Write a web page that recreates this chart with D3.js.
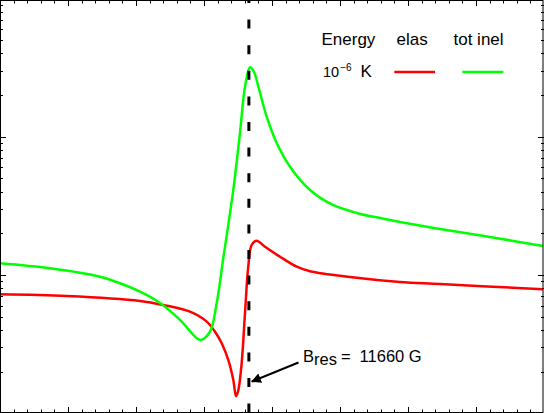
<!DOCTYPE html>
<html>
<head>
<meta charset="utf-8">
<script src="https://cdn.jsdelivr.net/npm/d3@7"></script>
<style>
  body { margin: 0; background: #fff; }
  svg { display: block; font-family: "Liberation Sans", Arial, sans-serif; }
</style>
</head>
<body>
<svg></svg>
<script>
const width = 544;
const height = 413;

// DATA (field in G, rate coefficients)
const elasField = [11623.40, 11633.21, 11643.99, 11647.41, 11651.34, 11653.80, 11655.02, 11656.00,
                   11656.97, 11657.71, 11658.11, 11658.45, 11658.94, 11659.43, 11659.91, 11660.41,
                   11661.15, 11662.37, 11664.58, 11667.03, 11668.99, 11674.87, 11682.22, 11688.11, 11703.25];
const elasRate = [7.25e-13, 7.05e-13, 6.49e-13, 6.07e-13, 5.43e-13, 4.60e-13, 3.89e-13, 3.21e-13,
                  2.43e-13, 1.74e-13, 1.33e-13, 1.47e-13, 2.31e-13, 5.31e-13, 1.148e-12, 1.648e-12,
                  1.77e-12, 1.60e-12, 1.356e-12, 1.148e-12, 1.065e-12, 9.67e-13, 8.90e-13, 8.61e-13, 7.88e-13];

const inelField = [11623.40, 11630.75, 11638.11, 11641.05, 11643.99, 11646.93, 11649.87,
                   11652.33, 11652.96, 11654.28, 11655.27, 11656.24, 11657.08, 11657.71, 11658.69,
                   11659.43, 11660.16, 11660.75, 11661.39, 11662.62, 11664.09, 11666.05, 11668.99,
                   11672.37, 11675.86, 11679.28, 11682.22, 11688.11, 11695.46, 11703.25];
const inelRate = [1.215e-12, 1.118e-12, 9.72e-13, 8.71e-13, 7.57e-13, 6.27e-13, 4.73e-13,
                  3.49e-13, 3.39e-13, 3.89e-13, 6.27e-13, 1.327e-12, 2.50e-12, 4.12e-12, 1.063e-11,
                  2.30e-11, 3.18e-11, 2.94e-11, 2.30e-11, 1.395e-11, 9.00e-12, 6.07e-12, 4.12e-12,
                  3.21e-12, 2.81e-12, 2.58e-12, 2.42e-12, 2.15e-12, 1.883e-12, 1.62e-12];

const bRes = 11660;
const xDomain = [11623.4, 11703.4];
const yDomain = [1e-13, 1e-10];
const seriesNames = ['elas', 'tot inel'];
const seriesColors = ['#ff0000', '#00ff00'];

// SCALES
const xScale = d3.scaleLinear().domain(xDomain).range([0, width]);
const yScale = d3.scaleLog().domain(yDomain).range([413.3, -1.6]);

const svg = d3.select('svg')
    .attr('width', width)
    .attr('height', height);

const defs = svg.append('defs');
defs.append('clipPath').attr('id', 'clip')
  .append('rect').attr('x', 0).attr('y', 0).attr('width', width).attr('height', height);

defs.append('marker')
    .attr('id', 'arrow')
    .attr('viewBox', '0 0 10 10')
    .attr('refX', 9).attr('refY', 5)
    .attr('markerWidth', 5).attr('markerHeight', 5)
    .attr('orient', 'auto')
  .append('path')
    .attr('d', 'M0,0 L10,5 L0,10 z')
    .attr('fill', '#000');

// TICKS (inward on all four sides)
const xTicks = d3.range(0, 41).map(i => ({ v: xDomain[0] + 2 * i, major: i % 5 === 0 }));
const yTicks = [];
[-13, -12, -11].forEach(e => {
  d3.range(1, 10).forEach(m => yTicks.push({ v: m * Math.pow(10, e), major: m === 1 }));
});
yTicks.push({ v: 1e-10, major: true });

const ticks = svg.append('g').attr('stroke', '#000').attr('stroke-width', 1);
xTicks.forEach(t => {
  const x = Math.round(xScale(t.v)) + 0.5;
  const len = t.major ? 6 : 3.5;
  ticks.append('line').attr('x1', x).attr('x2', x).attr('y1', height).attr('y2', height - len);
  ticks.append('line').attr('x1', x).attr('x2', x).attr('y1', 0).attr('y2', len);
});
yTicks.forEach(t => {
  const y = Math.round(yScale(t.v)) + 0.5;
  const len = t.major ? 6 : 3;
  ticks.append('line').attr('x1', 0).attr('x2', len).attr('y1', y).attr('y2', y);
  ticks.append('line').attr('x1', width).attr('x2', width - len).attr('y1', y).attr('y2', y);
});

// CURVES (elas first, tot inel on top)
const line = d3.line()
    .x(d => xScale(d[0]))
    .y(d => yScale(d[1]))
    .curve(d3.curveCatmullRom.alpha(0.5));

const curves = svg.append('g').attr('clip-path', 'url(#clip)');
curves.append('path')
    .datum(d3.zip(elasField, elasRate))
    .attr('d', line)
    .attr('fill', 'none')
    .attr('stroke', seriesColors[0])
    .attr('stroke-width', 2.5);
curves.append('path')
    .datum(d3.zip(inelField, inelRate))
    .attr('d', line)
    .attr('fill', 'none')
    .attr('stroke', seriesColors[1])
    .attr('stroke-width', 2.5);

// RESONANCE LINE
svg.append('line')
    .attr('x1', xScale(bRes)).attr('x2', xScale(bRes))
    .attr('y1', -6).attr('y2', height)
    .attr('stroke', '#000')
    .attr('stroke-width', 3)
    .attr('stroke-dasharray', '9,16.6');

// FRAME
svg.append('rect')
    .attr('x', 0.5).attr('y', 0.5)
    .attr('width', width - 1.5).attr('height', height - 1)
    .attr('fill', 'none')
    .attr('stroke', '#000')
    .attr('stroke-width', 1);

// LEGEND
const legend = svg.append('g').style('font-size', '17px').attr('fill', '#000');
legend.append('text').attr('x', 321.5).attr('y', 45).text('Energy');
legend.append('text').attr('x', 396.5).attr('y', 45).text(seriesNames[0]);
legend.append('text').attr('x', 453.5).attr('y', 45).text(seriesNames[1]);
const eText = legend.append('text').attr('x', 323).attr('y', 77);
eText.append('tspan').style('font-size', '14.5px').text('10');
eText.append('tspan').style('font-size', '10px').attr('dy', -6).attr('dx', 1).text('\u22126');
eText.append('tspan').attr('dy', 6).attr('dx', 9).text('K');
[[394.3, 435], [462.3, 503.3]].forEach((seg, i) => {
  legend.append('line')
      .attr('x1', seg[0]).attr('x2', seg[1])
      .attr('y1', 72).attr('y2', 72)
      .attr('stroke', seriesColors[i])
      .attr('stroke-width', 2.5);
});

// ANNOTATION
svg.append('line')
    .attr('x1', 298.5).attr('y1', 362.5)
    .attr('x2', xScale(bRes) + 3).attr('y2', 381.5)
    .attr('stroke', '#000')
    .attr('stroke-width', 2)
    .attr('marker-end', 'url(#arrow)');

const ann = svg.append('text').attr('x', 303).attr('y', 362).style('font-size', '16.5px');
ann.append('tspan').text('B');
ann.append('tspan').attr('dy', 3).text('res');
ann.append('tspan').attr('dy', -3).attr('dx', 4).text('=');
ann.append('tspan').attr('dx', 9).text('11660 G');
</script>
</body>
</html>
